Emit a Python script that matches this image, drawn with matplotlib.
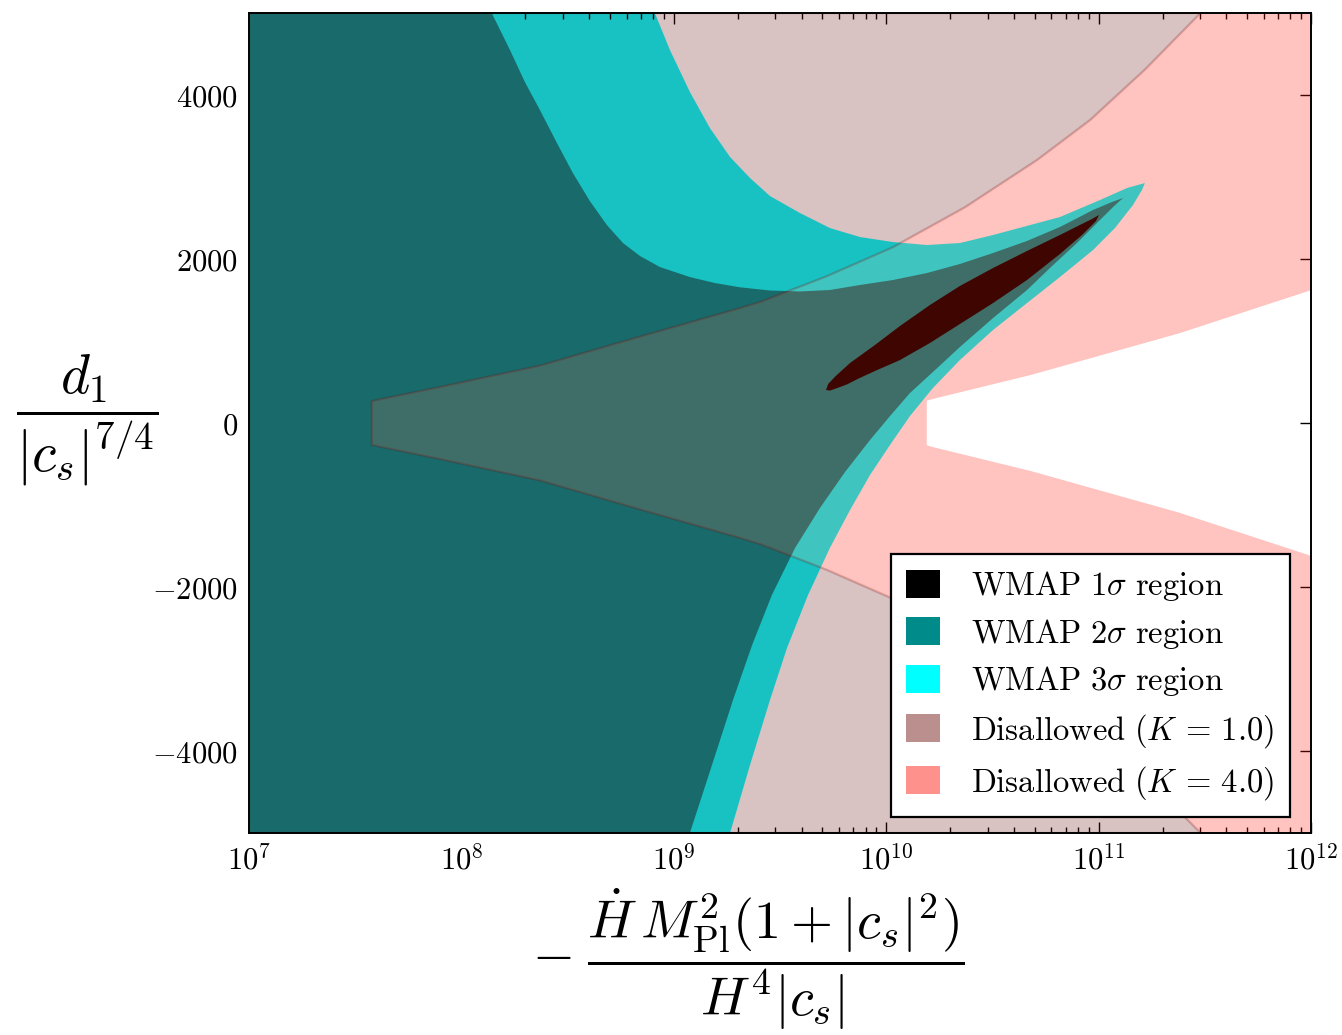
import numpy as np
import matplotlib

matplotlib.use("Agg")
import matplotlib.pyplot as plt
from matplotlib.patches import Patch
from matplotlib.ticker import FixedLocator, FuncFormatter, LogLocator, NullFormatter

plt.rcParams["mathtext.fontset"] = "cm"

# region outlines; x is given as log10(x)
# K = 1.0 allowed wedge (symmetric about y = 0)
wedge_logx = [7.578, 7.60, 7.90, 8.37, 8.84, 9.31, 9.41, 9.72, 10.03, 10.37, 10.71, 10.96, 11.218, 11.48]
wedge_y = [265, 280, 440, 700, 1053, 1400, 1479, 1790, 2142, 2630, 3207, 3695, 4310, 5000]

# K = 4.0 allowed wedge (white, symmetric)
inner_logx = [10.191, 10.23, 10.68, 11.38, 12.0]
inner_y = [272, 300, 585, 1094, 1620]

# WMAP 3 sigma region
s3_up_logx = [8.911, 8.982, 9.076, 9.170, 9.265, 9.359, 9.453, 9.594, 9.735, 9.877,
              10.032, 10.192, 10.347, 10.503, 10.818, 11.007, 11.134, 11.218]
s3_up_y = [5000, 4549, 4037, 3598, 3244, 2988, 2768, 2561, 2378, 2268,
           2207, 2171, 2195, 2293, 2512, 2720, 2866, 2927]
s3_lo_logx = [9.265, 9.359, 9.453, 9.533, 9.632, 9.735, 9.830, 9.924, 10.018, 10.112,
              10.220, 10.347, 10.503, 10.663, 10.818, 10.974, 11.077, 11.162, 11.204, 11.218]
s3_lo_y = [-5000, -4171, -3378, -2744, -2098, -1524, -1061, -634, -268, 85,
           427, 768, 1134, 1463, 1780, 2110, 2378, 2659, 2841, 2927]

# WMAP 2 sigma region
s2_up_logx = [8.143, 8.229, 8.299, 8.370, 8.450, 8.525, 8.605, 8.685, 8.761, 8.841,
              8.935, 9.076, 9.194, 9.312, 9.453, 9.594, 9.735, 9.877, 10.032, 10.192,
              10.347, 10.503, 10.663, 10.818, 10.974, 11.063, 11.115]
s2_up_y = [5000, 4549, 4159, 3817, 3415, 3049, 2707, 2415, 2195, 2037,
           1902, 1780, 1707, 1655, 1616, 1604, 1622, 1683, 1744, 1829,
           1939, 2073, 2220, 2390, 2598, 2695, 2744]
s2_lo_logx = [9.076, 9.180, 9.279, 9.369, 9.462, 9.571, 9.688, 9.806, 9.924, 10.018,
              10.112, 10.230, 10.347, 10.503, 10.663, 10.781, 10.898, 10.983, 11.068, 11.115]
s2_lo_y = [-5000, -4171, -3378, -2707, -2098, -1524, -1037, -598, -207, 85,
           366, 646, 927, 1280, 1622, 1915, 2195, 2415, 2634, 2744]

# WMAP 1 sigma region (closed outline)
s1_logx = [9.717, 9.727, 9.760, 9.830, 9.947, 10.065, 10.206, 10.347, 10.503, 10.663,
           10.818, 10.912, 10.969, 11.002, 10.988, 10.922, 10.818, 10.663, 10.503, 10.347,
           10.206, 10.065, 9.947, 9.868, 9.816, 9.783, 9.736]
s1_y = [402, 476, 567, 732, 951, 1183, 1439, 1671, 1890, 2098,
        2293, 2415, 2488, 2537, 2463, 2293, 2061, 1744, 1463, 1207,
        976, 768, 634, 540, 471, 439, 396]

labels = [
    r"$\mathrm{WMAP\ 1}\sigma\mathrm{\ region}$",
    r"$\mathrm{WMAP\ 2}\sigma\mathrm{\ region}$",
    r"$\mathrm{WMAP\ 3}\sigma\mathrm{\ region}$",
    r"$\mathrm{Disallowed\ }(K\,=\,1.0)$",
    r"$\mathrm{Disallowed\ }(K\,=\,4.0)$",
]
legend_colors = ["#000000", "#008b8b", "#00ffff", "#bc8f8f", "#ff918c"]

XMIN, XMAX, YMIN, YMAX = 1e7, 1e12, -5000, 5000
k1_color = (0.40, 0.063, 0.063, 0.255)
k4_color = (1.0, 0.08, 0.0, 0.25)


def pw(a):
    return 10.0 ** np.asarray(a, dtype=float)


fig = plt.figure(figsize=(13.42, 10.35), dpi=100)
ax = fig.add_axes([0.1855, 0.1952, 0.7914, 0.7922])
ax.set_xscale("log")

# WMAP regions, opaque, nested
x3 = np.concatenate([[XMIN], pw(s3_up_logx), pw(s3_lo_logx)[::-1], [XMIN]])
y3 = np.concatenate([[YMAX], s3_up_y, s3_lo_y[::-1], [YMIN]])
ax.fill(x3, y3, color="#00ffff", lw=0, zorder=1)

x2 = np.concatenate([[XMIN], pw(s2_up_logx), pw(s2_lo_logx)[::-1], [XMIN]])
y2 = np.concatenate([[YMAX], s2_up_y, s2_lo_y[::-1], [YMIN]])
ax.fill(x2, y2, color="#008b8b", lw=0, zorder=2)

ax.fill(pw(s1_logx), s1_y, color="black", lw=0, zorder=3)

# disallowed for K = 1.0: everything outside the outer wedge
wx = pw(wedge_logx)
wy = np.asarray(wedge_y, dtype=float)
xk1 = np.concatenate([[XMIN], wx[::-1], wx, [XMIN]])
yk1 = np.concatenate([[YMAX], wy[::-1], -wy, [YMIN]])
ax.fill(xk1, yk1, facecolor=k1_color, edgecolor=k1_color, lw=1.6, zorder=4)

# disallowed for K = 4.0 only: inside outer wedge, outside inner wedge
ix = pw(inner_logx)
iy = np.asarray(inner_y, dtype=float)
xk4 = np.concatenate([wx, [XMAX], ix[::-1], ix, [XMAX], wx[::-1]])
yk4 = np.concatenate([wy, [YMAX], iy[::-1], -iy, [YMIN], -wy[::-1]])
ax.fill(xk4, yk4, color=k4_color, lw=0, zorder=4)

ax.set_xlim(XMIN, XMAX)
ax.set_ylim(YMIN, YMAX)

ax.xaxis.set_major_locator(FixedLocator([1e7, 1e8, 1e9, 1e10, 1e11, 1e12]))
ax.xaxis.set_minor_locator(LogLocator(base=10, subs=np.arange(2, 10), numticks=20))
ax.xaxis.set_minor_formatter(NullFormatter())
ax.xaxis.set_major_formatter(FuncFormatter(lambda v, p: r"$10^{%d}$" % round(np.log10(v))))
ax.yaxis.set_major_locator(FixedLocator([-4000, -2000, 0, 2000, 4000]))
ax.yaxis.set_major_formatter(FuncFormatter(lambda v, p: r"$%d$" % v))

ax.tick_params(which="both", direction="in", top=True, right=True, width=1.0, colors="black")
ax.tick_params(which="major", length=8, labelsize=22, pad=8)
ax.tick_params(which="minor", length=4)
for s in ax.spines.values():
    s.set_linewidth(1.4)
    s.set_zorder(10)

ax.set_ylabel(r"$\dfrac{d_1}{|c_s|^{7/4}}$", fontsize=40, rotation=0, ha="center", va="center")
ax.yaxis.set_label_coords(-0.152, 0.503)
ax.set_xlabel(r"$-\;\dfrac{\dot{H}\,M_{\rm Pl}^2(1+|c_s|^2)}{H^4|c_s|}$", fontsize=39,
              ha="center", va="center")
ax.xaxis.set_label_coords(0.47, -0.154)

handles = [Patch(facecolor=c, edgecolor="none") for c in legend_colors]
leg = ax.legend(handles, labels, loc="lower right", bbox_to_anchor=(0.9802, 0.0195),
                fontsize=23.5, frameon=True, fancybox=False, framealpha=1, edgecolor="black",
                handlelength=1.05, handleheight=0.95, handletextpad=0.95, borderpad=0.47,
                labelspacing=0.42, borderaxespad=0.0)
leg.get_frame().set_linewidth(1.6)
leg.set_zorder(20)

fig.savefig("out.png", dpi=100)
